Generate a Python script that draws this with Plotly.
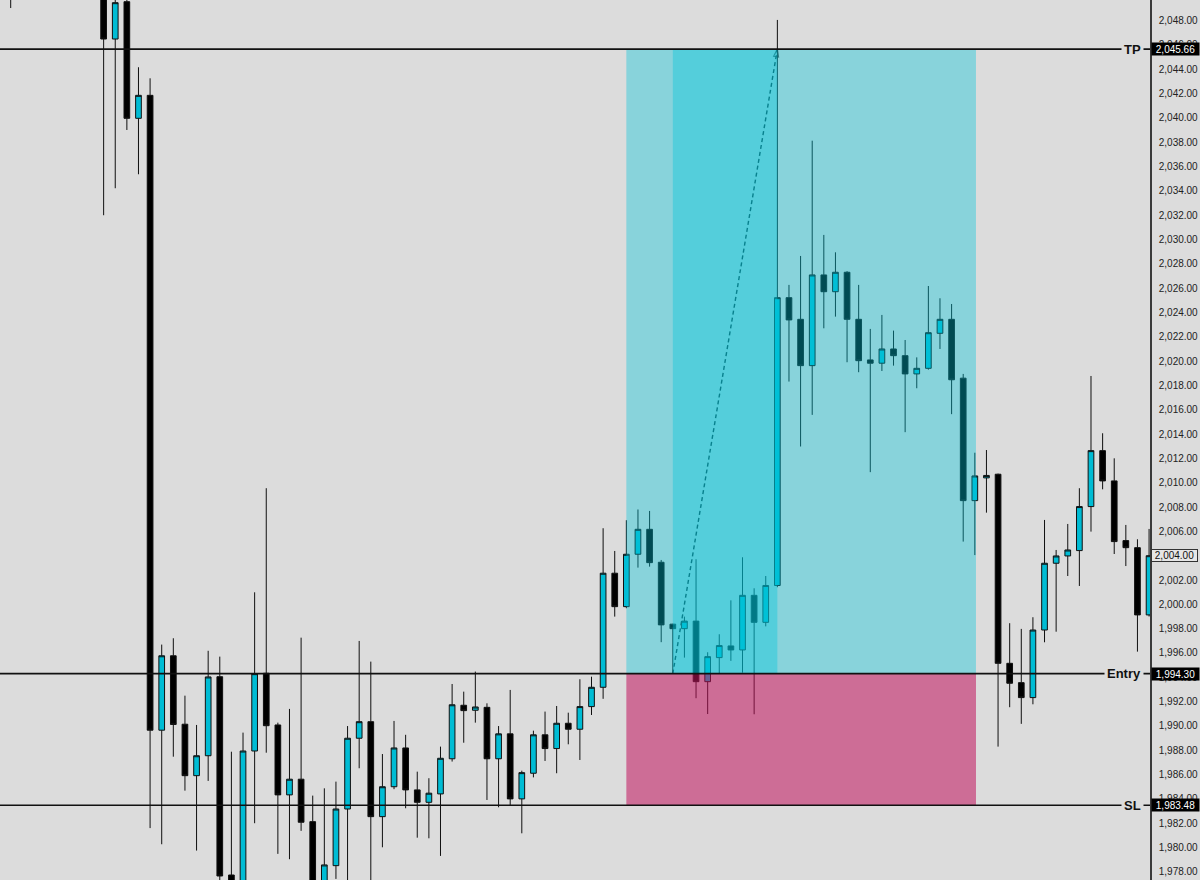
import plotly.graph_objects as go

# bar index (bars 1-7 sit above the visible window and are left out)
bar = [0] + list(range(8, 99))

open_ = [2052.0,
         2051.0, 2046.49, 2049.56, 2039.97, 2041.86, 1989.65, 1995.77, 1990.14, 1985.91, 1987.55,
         1994.05, 1977.74, 1976.8, 1987.94, 1994.33, 1990.08, 1984.33, 1985.62, 1982.13, 1976.8,
         1978.51, 1983.17, 1988.99, 1990.35, 1982.54, 1985.0, 1988.19, 1984.74, 1983.72, 1984.41,
         1987.3, 1991.7, 1991.29, 1991.53, 1987.3, 1989.35, 1984.0, 1986.11, 1989.27, 1988.14,
         1990.22, 1989.73, 1991.59, 1993.18, 2002.56, 1999.81, 2004.12, 2006.17, 2003.46, 1998.37,
         1998.0, 1998.62, 1993.64, 1995.62, 1996.58, 1996.25, 2000.74, 1998.52, 2001.55, 2025.22,
         2023.44, 2019.63, 2027.09, 2025.71, 2027.31, 2023.44, 2020.1, 2019.83, 2021.0, 2020.45,
         2018.95, 2019.41, 2022.29, 2023.44, 2018.6, 2008.53, 2010.4, 2010.7, 1995.15, 1993.56,
         1992.33, 1997.89, 2003.38, 2003.98, 2004.42, 2008.04, 2012.64, 2010.15, 2005.24, 2004.66,
         1999.13]
high = [2053.0,
        2052.0, 2050.2, 2049.8, 2044.17, 2043.26, 1996.69, 1997.21, 1992.49, 1990.08, 1996.18,
        1995.7, 1987.88, 1989.45, 2000.99, 2009.55, 1990.27, 1991.4, 1997.26, 1984.27, 1984.87,
        1985.42, 1989.99, 1996.99, 1995.29, 1987.69, 1990.41, 1989.27, 1986.24, 1985.7, 1988.3,
        1993.45, 1992.82, 1994.47, 1991.86, 1989.99, 1992.96, 1986.32, 1989.61, 1991.18, 1991.64,
        1991.09, 1993.84, 1994.05, 2006.26, 2004.39, 2006.92, 2007.8, 2007.68, 2003.65, 1998.4,
        1998.99, 2003.71, 1996.06, 1997.54, 2000.33, 2003.87, 2001.32, 2002.33, 2048.06, 2026.27,
        2028.65, 2038.13, 2030.38, 2028.95, 2027.4, 2026.27, 2022.65, 2023.8, 2022.51, 2021.74,
        2020.31, 2026.18, 2025.17, 2024.7, 2018.95, 2012.47, 2012.69, 2010.75, 1998.45, 1997.98,
        1998.94, 2006.94, 2004.47, 2006.61, 2009.55, 2018.78, 2014.07, 2012.01, 2006.53, 2005.35,
        2006.2]
low = [2049.04,
       2032.0, 2034.22, 2039.01, 2035.37, 1981.6, 1980.27, 1987.47, 1984.68, 1979.75, 1985.48,
       1976.8, 1975.5, 1976.0, 1982.0, 1987.8, 1979.48, 1979.04, 1981.37, 1976.5, 1976.2,
       1977.42, 1977.17, 1986.52, 1976.8, 1980.02, 1984.8, 1983.23, 1980.81, 1980.76, 1979.31,
       1987.07, 1988.62, 1990.27, 1983.91, 1983.31, 1983.5, 1981.17, 1985.77, 1987.12, 1986.11,
       1988.49, 1987.2, 1990.9, 1992.23, 1998.99, 1999.68, 2003.02, 2003.1, 1996.89, 1994.38,
       1995.62, 1992.28, 1990.98, 1994.33, 1995.35, 1994.38, 1990.96, 1998.19, 2001.41, 2018.32,
       2012.98, 2015.58, 2022.7, 2023.66, 2019.91, 2019.09, 2010.87, 2019.19, 2019.63, 2014.16,
       2017.77, 2019.3, 2021.0, 2015.64, 2005.16, 2004.05, 2007.54, 1988.3, 1991.54, 1990.17,
       1991.78, 1996.88, 1997.75, 2002.33, 2001.51, 2005.98, 2009.46, 2004.14, 2003.15, 1996.11,
       1999.0]
close = [2051.2,
         2046.49, 2049.48, 2039.97, 2041.86, 1989.65, 1995.77, 1990.12, 1985.91, 1987.55, 1994.03,
         1977.66, 1976.3, 1987.94, 1994.3, 1990.02, 1984.33, 1985.62, 1982.08, 1977.0, 1978.57,
         1983.17, 1988.99, 1990.35, 1982.54, 1985.0, 1988.19, 1984.74, 1983.72, 1984.47, 1987.34,
         1991.74, 1991.26, 1991.56, 1987.3, 1989.35, 1984.0, 1986.16, 1989.27, 1988.14, 1990.22,
         1989.73, 1991.59, 1993.18, 2002.56, 1999.81, 2004.12, 2006.17, 2003.43, 1998.31, 1998.0,
         1998.62, 1993.64, 1995.7, 1996.61, 1996.25, 2000.74, 1998.52, 2001.55, 2025.22, 2023.39,
         2019.63, 2027.09, 2025.71, 2027.31, 2023.44, 2020.04, 2019.83, 2021.0, 2020.45, 2018.95,
         2019.41, 2022.34, 2023.44, 2018.47, 2008.53, 2010.56, 2010.6, 1995.15, 1993.51, 1992.33,
         1997.89, 2003.38, 2003.98, 2004.47, 2008.04, 2012.64, 2010.15, 2005.16, 2004.66, 1999.13,
         2004.0]

# long position tool
tp_price = 2045.66
entry_price = 1994.30
sl_price = 1983.48
pos_start, pos_end = 53, 83.1      # bars covered by the position box
trade_start, trade_end = 57, 66    # entry bar -> bar that hit TP

y_ticks = list(range(1978, 2050, 2))

BG = "#DCDCDC"
CYAN = "#00BCD4"

fig = go.Figure()

fig.add_trace(go.Candlestick(
    x=bar, open=open_, high=high, low=low, close=close,
    increasing=dict(fillcolor=CYAN, line=dict(color="#101010", width=1)),
    decreasing=dict(fillcolor="#000000", line=dict(color="#101010", width=1)),
    whiskerwidth=0,
    hoverinfo="skip",
    showlegend=False,
))

# dashed path entry -> TP with small arrow head
fig.add_trace(go.Scatter(
    x=[trade_start, trade_end], y=[entry_price, tp_price],
    mode="lines+markers",
    line=dict(color="#141414", width=1.4, dash="4px,3px"),
    marker=dict(symbol=["circle", "arrow-open"], size=[0, 8], angleref="previous",
                color="#141414", line=dict(width=1.2, color="#141414")),
    hoverinfo="skip",
    showlegend=False,
))

teal = "rgba(0,196,217,0.38)"
pink = "rgba(193,18,92,0.55)"

shapes = [
    dict(type="rect", x0=pos_start, x1=pos_end, y0=entry_price, y1=tp_price,
         fillcolor=teal, line=dict(width=0), layer="above"),
    dict(type="rect", x0=trade_start, x1=trade_end, y0=entry_price, y1=tp_price,
         fillcolor=teal, line=dict(width=0), layer="above"),
    dict(type="rect", x0=pos_start, x1=pos_end, y0=sl_price, y1=entry_price,
         fillcolor=pink, line=dict(width=0), layer="above"),
]
for p in [tp_price, entry_price, sl_price]:
    shapes.append(dict(type="line", xref="paper", x0=0, x1=1, y0=p, y1=p,
                       line=dict(color="#111111", width=1.6), layer="above"))

annotations = []
for name, p in [("TP", tp_price), ("Entry", entry_price), ("SL", sl_price)]:
    annotations.append(dict(
        x=0.995, xref="paper", y=p, yref="y", xanchor="right", yanchor="middle",
        text=f"<b>{name}</b>", showarrow=False, bgcolor=BG, borderpad=2,
        font=dict(family="Liberation Sans", size=13, color="#111111"),
    ))
    annotations.append(dict(
        x=1, xref="paper", y=p, yref="y", xanchor="left", yanchor="middle", xshift=1,
        text=f"{p:,.2f}", showarrow=False, bgcolor="#000000", width=47, height=12,
        borderpad=0, font=dict(family="Liberation Sans", size=10, color="#FFFFFF"),
    ))
# last price tag
annotations.append(dict(
    x=1, xref="paper", y=close[-1], yref="y", xanchor="left", yanchor="middle", xshift=1,
    text=f"{close[-1]:,.2f}", showarrow=False, bgcolor="#E6E6E6", bordercolor="#333333",
    borderwidth=1, width=45, height=11, borderpad=0,
    font=dict(family="Liberation Sans", size=10, color="#111111"),
))

fig.update_layout(
    width=1200, height=880,
    margin=dict(l=0, r=50, t=0, b=0),
    paper_bgcolor=BG, plot_bgcolor=BG,
    shapes=shapes, annotations=annotations,
    xaxis=dict(range=[-0.921, 98.08], visible=False, rangeslider=dict(visible=False),
               showgrid=False, zeroline=False),
    yaxis=dict(range=[1977.33, 2049.70], side="right", showgrid=False, zeroline=False,
               tickvals=y_ticks, tickformat=",.2f", ticks="outside", ticklen=5,
               tickcolor="rgba(0,0,0,0)", showline=True, linecolor="#3a3a3a", linewidth=1.5,
               tickfont=dict(family="Liberation Sans", size=10, color="#222222"),
               automargin=False),
    hovermode=False,
)

# page body has an 8px default margin; drop it so the figure fills the window
fig.write_html("out.html", config=dict(displayModeBar=False),
               post_script="document.body.style.margin='0';document.body.style.overflow='hidden';")
